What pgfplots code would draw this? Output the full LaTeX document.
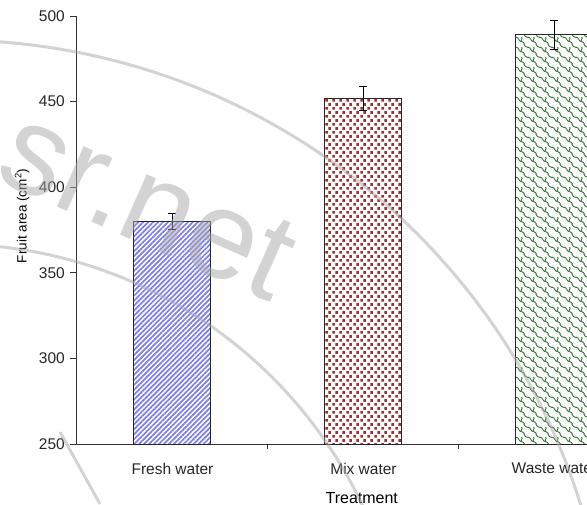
\documentclass[border=0pt]{standalone}
\usepackage{pgfplots}
\pgfplotsset{compat=1.18}
\usepackage{fontspec}
\setmainfont{Liberation Sans}
\usetikzlibrary{patterns.meta}

\definecolor{freshblue}{HTML}{7C7CEE}
\definecolor{mixred}{HTML}{A03030}
\definecolor{wastegreen}{HTML}{3A763A}
\definecolor{axisgray}{HTML}{333333}
\definecolor{markgray}{HTML}{A8A8A8}

% staggered small squares
\tikzdeclarepattern{
  name=squaredots,
  tile size={(6.5pt,8.4pt)},
  bottom left={(0pt,0pt)}, top right={(6.5pt,8.4pt)},
  code={
    \fill (0.3pt,0.3pt) rectangle (3.1pt,3.1pt);
    \fill (3.55pt,4.5pt) rectangle (6.35pt,7.3pt);
  }
}
% interlocking paver outline
\tikzdeclarepattern{
  name=pavers,
  tile size={(12pt,10pt)},
  bottom left={(0pt,0pt)}, top right={(12pt,10pt)},
  code={
    \foreach \dx in {-12,0,12}{
      \foreach \dy in {-10,0,10}{
        \begin{scope}[shift={(\dx pt,\dy pt)}]
        \draw[line width=1pt] (0pt,7.5pt) .. controls (3.5pt,7.5pt) and (2.5pt,2.5pt) .. (6pt,2.5pt)
          .. controls (9.5pt,2.5pt) and (8.5pt,-2.5pt) .. (12pt,-2.5pt);
        \draw[line width=1pt] (6pt,2.5pt) .. controls (4pt,4pt) and (8pt,6pt) .. (6pt,7.5pt);
        \end{scope}
      }
    }
  }
}

\begin{document}
\begin{tikzpicture}
\path[use as bounding box, clip] (-77pt,-60pt) rectangle (510pt,444pt);
\begin{axis}[
  at={(0pt,0pt)}, anchor=south west,
  scale only axis, width=573pt, height=428pt,
  xmin=-0.5, xmax=2.5, ymin=250, ymax=500,
  axis lines*=left,
  axis line style={axisgray, line width=1pt},
  every tick/.style={axisgray, line width=1pt},
  tick align=outside,
  ytick={250,300,...,500},
  xtick={0,1,2},
  xticklabels={Fresh water, Mix water, Waste water},
  minor xtick={0.5,1.5,2.5},
  major x tick style={draw=none},
  major tick length=7pt, minor tick length=5pt,
  /pgf/number format/assume math mode=true,
  tick label style={font=\fontsize{15.5}{16}\selectfont, text=black!85},
  yticklabel style={inner sep=0pt, xshift=-5pt},
  xticklabel style={inner sep=0pt, yshift=-12pt},
  ylabel={Fruit area (cm\textsuperscript{2})},
  every axis y label/.style={at={(axis description cs:-0.096,0.533)}, rotate=90, anchor=center,
    font=\fontsize{13.5}{14}\selectfont},
  xlabel={Treatment},
  every axis x label/.style={at={(axis description cs:0.497,-0.126)}, anchor=center,
    font=\fontsize{16}{17}\selectfont},
  clip=false,
]
\addplot[ybar, bar width=77pt, bar shift=0pt, draw=black!85, line width=1pt,
  pattern={Lines[angle=45, distance=3.5pt, line width=1.7pt]}, pattern color=freshblue,
  error bars/.cd, y dir=both, y explicit,
  error bar style={black, line width=1.2pt},
  error mark options={rotate=90, mark size=4pt, line width=1.2pt, black}]
  coordinates {(0,380) +- (0,4.7)};
\addplot[ybar, bar width=77pt, bar shift=0pt, draw=black!85, line width=1pt,
  pattern={squaredots}, pattern color=mixred,
  error bars/.cd, y dir=both, y explicit,
  error bar style={black, line width=1.2pt},
  error mark options={rotate=90, mark size=4pt, line width=1.2pt, black}]
  coordinates {(1,452) +- (0,7)};
\addplot[ybar, bar width=77pt, bar shift=0pt, draw=black!85, line width=1pt,
  pattern={pavers}, pattern color=wastegreen,
  error bars/.cd, y dir=both, y explicit,
  error bar style={black, line width=1.2pt},
  error mark options={rotate=90, mark size=4pt, line width=1.2pt, black}]
  coordinates {(2,489) +- (0,8.5)};
\end{axis}
% faint stamp over the figure
\begin{scope}[opacity=0.5]
  \draw[markgray, line width=3pt] (-127pt,-256pt) circle (660pt);
  \draw[markgray, line width=3pt] (-127pt,-256pt) circle (456pt);
  \draw[markgray, line width=3pt] (-17pt,12pt) -- (23pt,-60pt);
  \node[markgray, rotate=-24, anchor=base west, inner sep=0pt,
    font=\fontsize{125}{125}\selectfont] at (-85pt,266pt) {sr.net};
\end{scope}
\end{tikzpicture}
\end{document}
